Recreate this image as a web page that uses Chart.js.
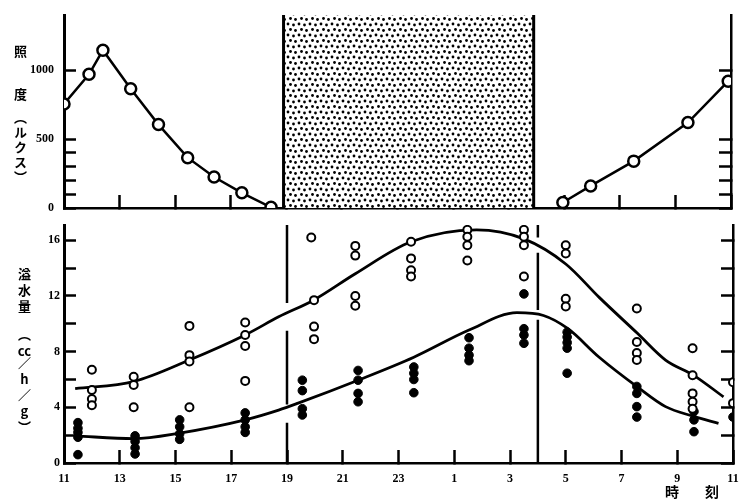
<!DOCTYPE html>
<html>
<head>
<meta charset="utf-8">
<script src="https://cdn.jsdelivr.net/npm/chart.js@4.4.1/dist/chart.umd.min.js"></script>
<style>
  html, body { margin: 0; padding: 0; background: #fff; }
  #wrap { position: relative; width: 739px; height: 501px; overflow: hidden; background: #fff; }
  #lightChart { position: absolute; left: 0; top: 0; }
  #waterChart { position: absolute; left: 0; top: 215px; }
  .vlabel {
    position: absolute; writing-mode: vertical-rl; text-orientation: upright;
    font-family: "Noto Sans CJK JP", sans-serif; font-weight: 700; font-size: 13px;
    line-height: 1; color: #000;
  }
  .tcu { text-combine-upright: all; }
  .hlabel { position: absolute; font-family: "Noto Sans CJK JP", sans-serif; font-weight: 700; font-size: 14px; line-height: 1; color: #000; }
</style>
</head>
<body>
<div id="wrap">
  <canvas id="lightChart" width="739" height="216"></canvas>
  <canvas id="waterChart" width="739" height="286"></canvas>
  <div class="vlabel" style="left:14px; top:45px;">照</div>
  <div class="vlabel" style="left:14px; top:88px;">度</div>
  <div class="vlabel" style="left:14px; top:111px; letter-spacing:2px;">（ルクス）</div>
  <div class="vlabel" style="left:18px; top:268px; letter-spacing:3px;">溢水量</div>
  <div class="vlabel" style="left:18px; top:328px; letter-spacing:3px;">（<span class="tcu">cc</span>／h／g）</div>
  <div class="hlabel" style="left:665px; top:484px;">時</div>
  <div class="hlabel" style="left:705px; top:484px;">刻</div>
</div>
<script>
// Time is counted in hours from midnight of the first day (25 = 1 a.m. next day)

// Top panel: illuminance (lux)
const luxEveningHours = [11.0, 11.9, 12.4, 13.4, 14.4, 15.45, 16.4, 17.4, 18.45];
const luxEveningValues = [755, 970, 1145, 865, 605, 365, 225, 110, 5];
const luxMorningHours = [28.95, 29.95, 31.5, 33.45, 34.9];
const luxMorningValues = [40, 160, 340, 620, 920];
const luxTicks = [0, 100, 200, 300, 400, 500, 1000];
const luxLabels = [0, 500, 1000];
const luxMax = 1400;
const darkPeriod = [18.9, 27.9];

// Bottom panel: guttation (cc/h/g)
const openHours = [12.0, 13.5, 15.5, 17.5, 19.87, 19.97, 21.45, 23.45, 25.47, 27.5, 29.0, 31.55, 33.55, 35.0];
const openValues = [
  [6.7, 5.25, 4.6, 4.15],
  [6.2, 5.6, 4.0],
  [9.85, 7.75, 7.3, 4.0],
  [10.1, 9.2, 8.4, 5.9],
  [16.2],
  [11.7, 9.8, 8.9],
  [15.6, 14.9, 12.0, 11.3],
  [15.9, 14.7, 13.85, 13.4],
  [16.75, 16.25, 15.65, 14.55],
  [16.75, 16.25, 15.65, 13.4],
  [15.65, 15.05, 11.8, 11.25],
  [11.1, 8.7, 7.9, 7.4],
  [8.25, 6.3, 5.0, 4.4, 3.9],
  [5.8, 4.3]
];
const filledHours = [11.5, 13.55, 15.15, 17.5, 19.55, 21.55, 23.55, 25.53, 27.5, 29.05, 31.55, 33.6, 35.0];
const filledValues = [
  [2.9, 2.5, 2.2, 1.85, 0.6],
  [1.95, 1.55, 1.1, 0.65],
  [3.1, 2.6, 2.1, 1.7],
  [3.6, 3.1, 2.6, 2.2],
  [5.95, 5.2, 3.9, 3.45],
  [6.65, 5.95, 5.0, 4.4],
  [6.9, 6.45, 6.0, 5.05],
  [9.0, 8.25, 7.75, 7.35],
  [12.15, 9.65, 9.2, 8.6],
  [9.4, 9.05, 8.65, 8.25, 6.45],
  [5.5, 5.0, 4.05, 3.3],
  [3.7, 3.1, 2.25],
  [3.3]
];
const upperCurveHours = [11.4, 13.5, 15.5, 17.5, 18.7, 19.95, 21.45, 23.45, 25.8, 27.5, 29.0, 30.2, 31.58, 32.58, 33.59, 34.66];
const upperCurveValues = [5.35, 5.85, 7.4, 9.2, 10.5, 11.7, 13.6, 15.9, 16.75, 16.1, 14.3, 11.9, 9.3, 7.4, 6.3, 4.75];
const lowerCurveHours = [11.4, 13.5, 15.15, 17.5, 18.7, 19.4, 21.55, 23.55, 25.53, 27.25, 28.2, 29.08, 30.2, 31.58, 32.58, 33.59, 34.48];
const lowerCurveValues = [1.95, 1.75, 2.15, 3.1, 3.8, 4.3, 5.95, 7.6, 9.55, 10.8, 10.6, 9.65, 7.6, 5.45, 4.05, 3.35, 2.85];
const lightsOff = 19;
const lightsOffSegments = [[17.1, 11.5], [9.5, 4.2], [2.9, 0]];
const lightsOn = 28;
const lightsOnSegments = [[17.1, 16.2], [15.1, 11.0], [10.3, 0]];
const waterTicks = [0, 2, 4, 6, 8, 10, 12, 14, 16];
const waterLabels = [0, 4, 8, 12, 16];
const waterMax = 17.1;

// Shared time axis
const hourTicks = [11, 13, 15, 17, 19, 21, 23, 25, 27, 29, 31, 33, 35];
const hourLabels = ['11', '13', '15', '17', '19', '21', '23', '1', '3', '5', '7', '9', '11'];

const black = '#000';
const tickFont = { family: '"Liberation Serif", "DejaVu Serif", serif', size: 12, weight: 'bold' };

function pairs(xs, ys) {
  return xs.map((x, i) => ({ x: x, y: ys[i] }));
}

function groups(xs, lists) {
  const out = [];
  xs.forEach((x, i) => lists[i].forEach(y => out.push({ x: x, y: y })));
  return out;
}

// vertical line pieces with gaps between them
function segments(x, segs) {
  const out = [];
  segs.forEach(s => {
    out.push({ x: x, y: s[0] }, { x: x, y: s[1] }, { x: x, y: null });
  });
  return out;
}

function makeDotPattern() {
  const tile = document.createElement('canvas');
  tile.width = 11;
  tile.height = 11;
  const c = tile.getContext('2d');
  c.fillStyle = '#fff';
  c.fillRect(0, 0, 11, 11);
  c.fillStyle = black;
  [[2, 2], [7.5, 3], [4.5, 7.5], [9.5, 8.5]].forEach(p => {
    c.beginPath();
    c.arc(p[0], p[1], 1.4, 0, Math.PI * 2);
    c.fill();
  });
  return c.createPattern(tile, 'repeat');
}

function timeAxis(showLabels, height) {
  return {
    type: 'linear', min: 11, max: 35,
    afterBuildTicks: s => { s.ticks = hourTicks.map(v => ({ value: v })); },
    ticks: {
      display: showLabels, color: black, font: tickFont, padding: 22, maxRotation: 0, autoSkip: false,
      callback: v => hourLabels[hourTicks.indexOf(v)]
    },
    grid: { drawOnChartArea: false, tickLength: -13, tickWidth: 2.5, tickColor: black },
    border: { color: black, width: 2.5 },
    afterFit: s => { s.height = height; s.paddingLeft = 0; s.paddingRight = 0; }
  };
}

function valueAxis(pos, max, tickValues, labelValues, pad) {
  return {
    position: pos, min: 0, max: max,
    afterBuildTicks: s => { s.ticks = tickValues.map(v => ({ value: v })); },
    ticks: {
      display: pos === 'left', color: black, font: tickFont, padding: pad,
      callback: v => (labelValues.includes(v) ? String(v) : '')
    },
    grid: { drawOnChartArea: false, tickLength: -12, tickWidth: 2.5, tickColor: black },
    border: { color: black, width: pos === 'left' ? 3 : 2.5 },
    afterFit: s => {
      s.width = pos === 'left' ? 64 : 3;
      s.paddingTop = 0;
      s.paddingBottom = 0;
    }
  };
}

const common = {
  responsive: false,
  animation: false,
  events: [],
  plugins: { legend: { display: false }, tooltip: { enabled: false } }
};

// Top panel
new Chart(document.getElementById('lightChart'), {
  type: 'line',
  data: {
    datasets: [
      {
        data: pairs(luxEveningHours, luxEveningValues),
        borderColor: black, borderWidth: 2.5, tension: 0,
        pointRadius: 5.5, pointBackgroundColor: '#fff', pointBorderColor: black, pointBorderWidth: 2.5
      },
      {
        data: pairs(luxMorningHours, luxMorningValues),
        borderColor: black, borderWidth: 2.5, tension: 0,
        pointRadius: 5.5, pointBackgroundColor: '#fff', pointBorderColor: black, pointBorderWidth: 2.5
      },
      {
        data: segments(darkPeriod[0], [[0, luxMax]]).concat(segments(darkPeriod[1], [[0, luxMax]])),
        borderColor: black, borderWidth: 3, pointRadius: 0, spanGaps: false
      },
      {
        data: [{ x: darkPeriod[0], y: luxMax }, { x: darkPeriod[1], y: luxMax }],
        borderWidth: 0, pointRadius: 0, fill: 'origin', backgroundColor: makeDotPattern()
      }
    ]
  },
  options: Object.assign({}, common, {
    layout: { padding: { top: 15, left: 0, right: 0, bottom: 0 } },
    scales: {
      x: timeAxis(false, 5),
      y: valueAxis('left', luxMax, luxTicks, luxLabels, 22),
      y2: valueAxis('right', luxMax, luxTicks, luxLabels, 22)
    }
  })
});

// Bottom panel
new Chart(document.getElementById('waterChart'), {
  type: 'line',
  data: {
    datasets: [
      {
        data: groups(openHours, openValues), showLine: false,
        pointRadius: 4, pointBackgroundColor: '#fff', pointBorderColor: black, pointBorderWidth: 2
      },
      {
        data: groups(filledHours, filledValues), showLine: false,
        pointRadius: 4.3, pointBackgroundColor: black, pointBorderColor: black, pointBorderWidth: 1
      },
      {
        data: pairs(upperCurveHours, upperCurveValues),
        borderColor: black, borderWidth: 2.8, pointRadius: 0, cubicInterpolationMode: 'monotone'
      },
      {
        data: pairs(lowerCurveHours, lowerCurveValues),
        borderColor: black, borderWidth: 2.8, pointRadius: 0, cubicInterpolationMode: 'monotone'
      },
      {
        data: segments(lightsOff, lightsOffSegments).concat(segments(lightsOn, lightsOnSegments)),
        borderColor: black, borderWidth: 2.5, pointRadius: 0, spanGaps: false
      }
    ]
  },
  options: Object.assign({}, common, {
    layout: { padding: { top: 10, left: 0, right: 0, bottom: 0 } },
    scales: {
      x: timeAxis(true, 38),
      y: valueAxis('left', waterMax, waterTicks, waterLabels, 16),
      y2: valueAxis('right', waterMax, waterTicks, waterLabels, 16)
    }
  })
});
</script>
</body>
</html>
